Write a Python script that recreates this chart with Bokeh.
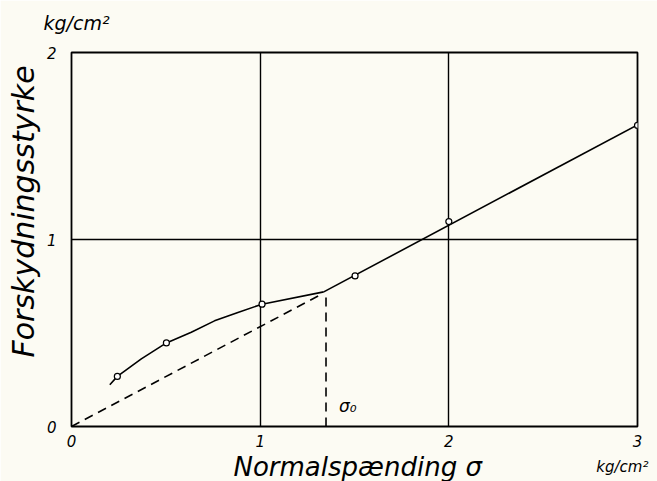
from bokeh.plotting import figure
from bokeh.models import Label, FixedTicker, Range1d, Title
from bokeh.embed import file_html
from bokeh.resources import INLINE

# --- data ---
curve_x = [0.203, 0.243, 0.370, 0.503, 0.635, 0.758, 0.882, 1.01, 1.337]
curve_y = [0.223, 0.268, 0.362, 0.447, 0.504, 0.565, 0.61, 0.654, 0.72]
line_x = [1.337, 3.05]
line_y = [0.72, 1.64]
obs_x = [0.243, 0.503, 1.01, 1.503, 2.0, 3.0]
obs_y = [0.268, 0.447, 0.654, 0.805, 1.096, 1.61]
dash_x = [0.0, 1.308]
dash_y = [0.0, 0.698]
sigma0_x = [1.349, 1.349]
sigma0_y = [0.0, 0.698]
x_ticks = [0, 1, 2, 3]
y_ticks = [0, 1, 2]

FONT = "DejaVu Sans"
BG = "#fcfbf3"

p = figure(width=657, height=481, output_backend="svg", toolbar_location=None,
           x_range=Range1d(0, 3), y_range=Range1d(0, 2), title=None,
           min_border_left=70, min_border_right=20, min_border_top=52,
           min_border_bottom=53)
p.background_fill_color = BG
p.border_fill_color = BG
p.outline_line_color = "black"
p.outline_line_width = 1.8

for ax in (p.xaxis[0], p.yaxis[0]):
    ax.axis_line_color = None
    ax.major_tick_line_color = None
    ax.minor_tick_line_color = None
    ax.major_label_text_font = FONT
    ax.major_label_text_font_style = "italic"
    ax.major_label_text_font_size = "15px"
    ax.major_label_text_color = "black"
p.xaxis[0].ticker = FixedTicker(ticks=x_ticks)
p.yaxis[0].ticker = FixedTicker(ticks=y_ticks)
p.xaxis[0].major_label_standoff = 2
p.yaxis[0].major_label_standoff = 9

p.xgrid[0].ticker = FixedTicker(ticks=x_ticks)
p.ygrid[0].ticker = FixedTicker(ticks=y_ticks)
for g in (p.xgrid[0], p.ygrid[0]):
    g.grid_line_color = "black"
    g.grid_line_width = 1.4
    g.grid_line_alpha = 1.0

p.line(dash_x, dash_y, line_color="black", line_width=1.6, line_dash="9 6")
p.line(sigma0_x, sigma0_y, line_color="black", line_width=1.6, line_dash="9 6")
p.line(curve_x, curve_y, line_color="black", line_width=1.6)
p.line(line_x, line_y, line_color="black", line_width=1.6)
p.scatter(obs_x, obs_y, size=6, marker="circle", fill_color="white",
          line_color="black", line_width=1.2)

p.add_layout(Label(x=1.418, y=0.058, text="σ₀", text_font=FONT,
                   text_font_style="italic", text_font_size="17px",
                   text_color="black"))

# texts outside the frame
y_title = Title(text="Forskydningsstyrke", align="left", offset=69,
                text_font=FONT, text_font_style="italic",
                text_font_size="30px", text_color="black", standoff=6)
top_unit = Title(text="kg/cm²", align="left", offset=-28,
                 text_font=FONT, text_font_style="italic",
                 text_font_size="19px", text_color="black", standoff=1)
x_title = Title(text="Normalspænding σ", align="left", offset=162,
                text_font=FONT, text_font_style="italic",
                text_font_size="26px", text_color="black", standoff=0)
bottom_unit = Label(x=2.92, y=-0.265, text="kg/cm²", text_font=FONT,
                    text_font_style="italic", text_font_size="15px",
                    text_align="center", text_color="black")

p.left = p.left + [y_title]
p.below = p.below + [x_title]
p.above = [bottom_unit, top_unit]

open("out.html", "w").write(file_html(p, INLINE))
